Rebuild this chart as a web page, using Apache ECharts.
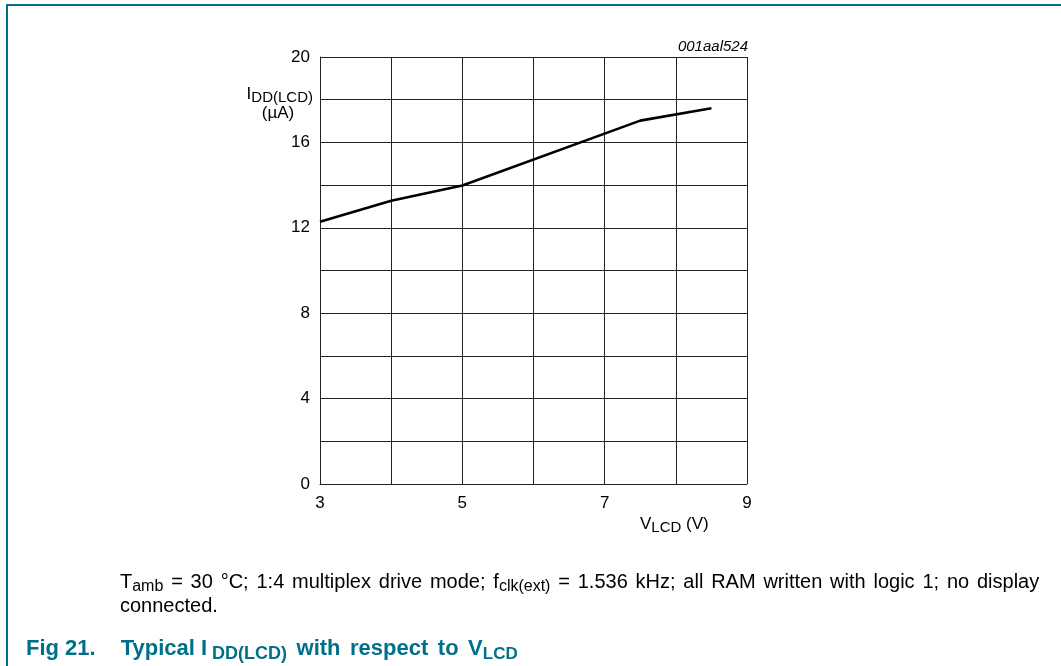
<!DOCTYPE html>
<html><head><meta charset="utf-8">
<script src="https://cdn.jsdelivr.net/npm/echarts@6/dist/echarts.min.js"></script>
<style>html,body{margin:0;padding:0;background:#fff}#c{width:1061px;height:666px}</style>
</head><body><div id="c"></div>
<script>
// Data
const vlcd = [3, 4, 5, 7.5, 8.5];
const iddLcd = [12.28, 13.27, 13.98, 17.02, 17.6];
const xTickLabels = ['3', '5', '7', '9'];
const yTickLabels = ['0', '4', '8', '12', '16', '20'];

const teal = '#00708a';
const FF = '"Liberation Sans", Arial, sans-serif';
const chart = echarts.init(document.getElementById('c'), null, {renderer: 'canvas'});

const pts = vlcd.map((v, i) => [v, iddLcd[i]]);

function txt(x, y, rich, text, align, va) {
  return {type: 'text', x: x, y: y, silent: true,
    style: {text: text, rich: rich, align: align, verticalAlign: va, textAlign: align, textVerticalAlign: va}};
}

const capRich = {
  n: {fontSize: 20, fontFamily: FF, fill: '#000', lineHeight: 24},
  sp: {fontSize: 20, fontFamily: FF, fill: '#000', lineHeight: 24, width: 7.8},
  s: {fontSize: 16, fontFamily: FF, fill: '#000', lineHeight: 16, padding: [9, 0, 0, 0]}
};
const titleRich = {
  n: {fontSize: 22, fontFamily: FF, fontWeight: 'bold', fill: teal, lineHeight: 28},
  sp: {fontSize: 22, fontFamily: FF, fontWeight: 'bold', fill: teal, lineHeight: 28, width: 9.5},
  gap: {fontSize: 22, fontFamily: FF, fontWeight: 'bold', fill: teal, lineHeight: 28, width: 25},
  s: {fontSize: 17, fontFamily: FF, fontWeight: 'bold', fill: teal, lineHeight: 17, padding: [11, 0, 0, 0]},
  sg: {fontSize: 18, fontFamily: FF, fontWeight: 'bold', fill: teal, lineHeight: 18, padding: [11, 0, 0, 5]}
};
const axRich = {
  n: {fontSize: 17, fontFamily: FF, fill: '#000', lineHeight: 20},
  s: {fontSize: 15, fontFamily: FF, fill: '#000', lineHeight: 15, padding: [8, 0, 0, 0]}
};

function spaced(str) {
  return str.split(' ').map(w => (w ? '{n|' + w + '}' : '')).join('{sp| }');
}

const captionLine1 = '{n|T}{s|amb}{sp| }' + spaced('= 30 °C; 1:4 multiplex drive mode; f') +
  '{s|clk(ext)}{sp| }' + spaced('= 1.536 kHz; all RAM written with logic 1; no display');
const titleText = '{n|Fig 21.}{gap| }' + '{n|Typical I}{sg|DD(LCD)}{sp| }' + spaced('with respect to V') + '{s|LCD}';

chart.setOption({
  animation: false,
  backgroundColor: '#fff',
  grid: {left: 320, top: 57, width: 427, height: 427, containLabel: false},
  xAxis: {
    type: 'value', min: 3, max: 9, interval: 1,
    axisLine: {show: true, lineStyle: {color: '#222', width: 1}},
    axisTick: {show: false},
    splitLine: {show: true, lineStyle: {color: '#222', width: 1}},
    axisLabel: {
      margin: 11, color: '#000', fontSize: 17, fontFamily: FF,
      formatter: v => (xTickLabels.indexOf(String(v)) >= 0 ? String(v) : '')
    }
  },
  yAxis: {
    type: 'value', min: 0, max: 20, interval: 2,
    axisLine: {show: true, lineStyle: {color: '#222', width: 1}},
    axisTick: {show: false},
    splitLine: {show: true, lineStyle: {color: '#222', width: 1}},
    axisLabel: {
      margin: 10, color: '#000', fontSize: 17, fontFamily: FF,
      formatter: v => (yTickLabels.indexOf(String(v)) >= 0 ? String(v) : '')
    }
  },
  series: [{
    type: 'line', data: pts, showSymbol: false, symbol: 'none', smooth: false,
    lineStyle: {color: '#000', width: 2.6}
  }],
  graphic: [
    {type: 'line', silent: true, shape: {x1: 7, y1: 5, x2: 1061, y2: 5}, style: {stroke: teal, lineWidth: 2}},
    {type: 'line', silent: true, shape: {x1: 7, y1: 4, x2: 7, y2: 666}, style: {stroke: teal, lineWidth: 2}},
    txt(748, 47, {i: {fontSize: 15, fontFamily: FF, fontStyle: 'italic', fill: '#000'}}, '{i|001aal524}', 'right', 'middle'),
    txt(313, 94, axRich, '{n|I}{s|DD(LCD)}', 'right', 'middle'),
    txt(278, 113, axRich, '{n|(µA)}', 'center', 'middle'),
    txt(640, 524, axRich, '{n|V}{s|LCD}{n| (V)}', 'left', 'middle'),
    txt(120, 582, capRich, captionLine1, 'left', 'middle'),
    txt(120, 606, capRich, '{n|connected.}', 'left', 'middle'),
    txt(26, 649, titleRich, titleText, 'left', 'middle')
  ]
});
</script></body></html>
